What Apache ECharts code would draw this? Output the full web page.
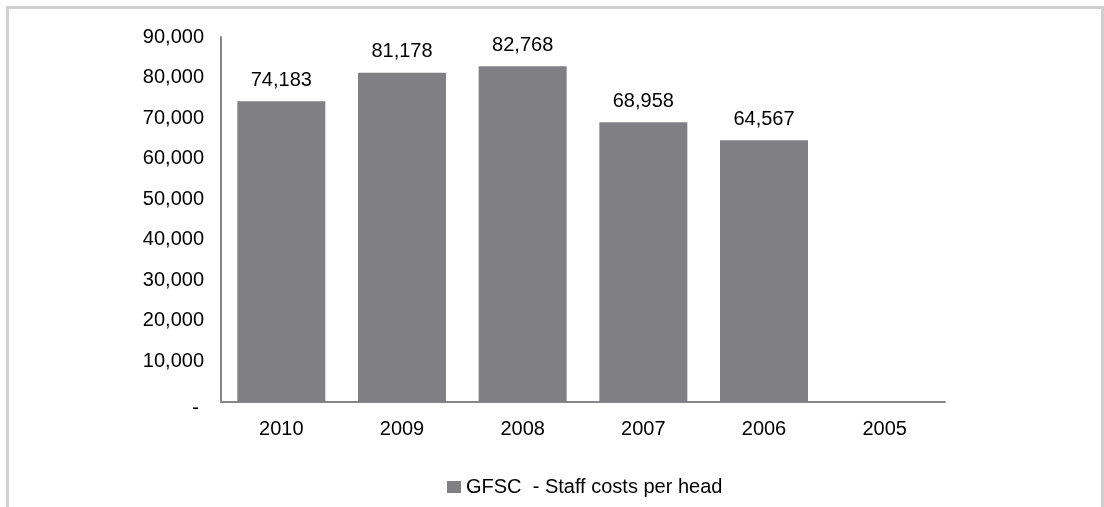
<!DOCTYPE html>
<html>
<head>
<meta charset="utf-8">
<script src="https://cdn.jsdelivr.net/npm/echarts@6/dist/echarts.min.js"></script>
<style>
  html, body { margin: 0; padding: 0; background: #fff; }
  #chart { width: 1104px; height: 507px; }
</style>
</head>
<body>
<div id="chart"></div>
<script>
// Staff costs per head, by year
const years = ['2010', '2009', '2008', '2007', '2006', '2005'];
const staffCostsPerHead = [74183, 81178, 82768, 68958, 64567, null];
const seriesName = 'GFSC  - Staff costs per head';

const FONT = '"Liberation Sans", Arial, sans-serif';
const fmt = v => Math.round(v).toLocaleString('en-US');

const chart = echarts.init(document.getElementById('chart'), null, { renderer: 'canvas' });
chart.setOption({
  animation: false,
  backgroundColor: '#ffffff',
  textStyle: { fontFamily: FONT },
  graphic: [{
    type: 'rect',
    shape: { x: 7.5, y: 7.5, width: 1095, height: 540 },
    style: { fill: 'none', stroke: '#d0d0d0', lineWidth: 3 },
    silent: true
  }],
  grid: { left: 221, right: 159, top: 37, bottom: 105 },
  legend: {
    left: 442,
    top: 472,
    itemWidth: 14,
    itemHeight: 12,
    icon: 'rect',
    textStyle: { fontFamily: FONT, fontSize: 20, color: '#000' },
    data: [seriesName]
  },
  xAxis: {
    type: 'category',
    data: years,
    axisLine: { lineStyle: { color: '#868686', width: 2 } },
    axisTick: { show: false },
    axisLabel: { fontFamily: FONT, fontSize: 20, color: '#000', margin: 17 }
  },
  yAxis: {
    type: 'value',
    min: 0,
    max: 90000,
    interval: 10000,
    splitLine: { show: false },
    axisLine: { show: true, lineStyle: { color: '#868686', width: 2 } },
    axisTick: { show: false },
    axisLabel: {
      fontFamily: FONT,
      fontSize: 20,
      color: '#000',
      margin: 17,
      formatter: v => v === 0 ? '{z|-}' : fmt(v),
      rich: {
        z: { fontFamily: FONT, fontSize: 20, color: '#000', padding: [12, 5, 0, 0] }
      }
    }
  },
  series: [{
    name: seriesName,
    type: 'bar',
    data: staffCostsPerHead,
    barWidth: 88,
    itemStyle: { color: '#807f84' },
    label: {
      show: true,
      position: 'top',
      distance: 11,
      fontFamily: FONT,
      fontSize: 20,
      color: '#000',
      formatter: p => p.value == null ? '' : fmt(p.value)
    }
  }]
});
</script>
</body>
</html>
